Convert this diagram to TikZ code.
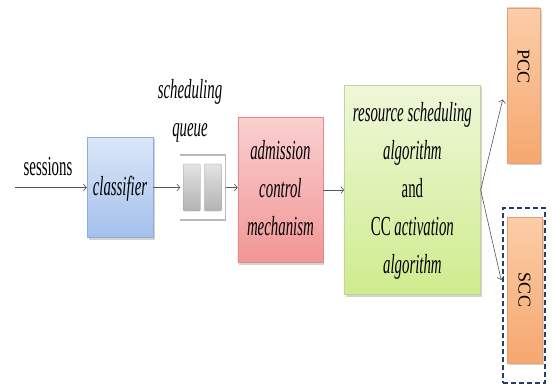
\documentclass[tikz,border=0pt]{standalone}
\usepackage{graphicx}
\usepackage{fontspec}
\setmainfont{Liberation Serif}
\usetikzlibrary{arrows.meta,positioning,shadows}

\definecolor{clsTop}{HTML}{DCE7F8}
\definecolor{clsBot}{HTML}{A3C0EC}
\definecolor{clsLine}{HTML}{8FACD8}
\definecolor{admTop}{HTML}{FAD0D0}
\definecolor{admBot}{HTML}{F29595}
\definecolor{admLine}{HTML}{E08A8A}
\definecolor{resTop}{HTML}{EEF7D9}
\definecolor{resBot}{HTML}{CFEC8E}
\definecolor{resLine}{HTML}{BFD696}
\definecolor{ccTop}{HTML}{FBCDA8}
\definecolor{ccBot}{HTML}{F6A76F}
\definecolor{ccLine}{HTML}{E3A070}
\definecolor{dashBlue}{HTML}{23406A}
\definecolor{arrGray}{HTML}{555555}

% narrow (horizontally squeezed) multi-line labels
\newcommand{\narrowtext}[1]{\scalebox{0.54}[1]{\fontsize{27.5}{38}\selectfont\itshape\begin{tabular}{@{}c@{}}#1\end{tabular}}}

\begin{document}
\begin{tikzpicture}[
  x=1pt, y=-1pt,
  blk/.style={draw, line width=0.5pt, inner sep=0pt,
    drop shadow={shadow xshift=1.5pt, shadow yshift=-2pt, opacity=0.35}},
  clsbox/.style={blk, draw=clsLine, top color=clsTop, bottom color=clsBot},
  admbox/.style={blk, draw=admLine, top color=admTop, bottom color=admBot},
  resbox/.style={blk, draw=resLine, top color=resTop, bottom color=resBot},
  ccbox/.style={blk, draw=ccLine, top color=ccTop, bottom color=ccBot},
  cell/.style={draw=gray!75, top color=gray!22, bottom color=gray!60, rounded corners=1pt,
    minimum width=17pt, minimum height=47pt, inner sep=0pt},
  qline/.style={draw=gray!55, line width=1.5pt},
  cctext/.style={rotate=-90, font=\fontsize{18}{20}\selectfont, inner sep=0pt},
  arr/.style={draw=arrGray, line width=0.6pt, -{Straight Barb[length=3pt,width=7pt]}}
]
\useasboundingbox (0,0) rectangle (553,387);

\node[clsbox, minimum width=66pt, minimum height=100pt] (classifier) at (120,187.5) {\narrowtext{classifier}};
\node[minimum width=45pt, minimum height=65pt, inner sep=0pt, right=27pt of classifier] (queue) {};
\draw[qline] (queue.north west) -- (queue.north east) -- (queue.south east) -- (queue.south west);
\node[cell] (q1) at ([xshift=-11pt]queue.center) {};
\node[cell] (q2) at ([xshift=10pt]queue.center) {};
\node[inner sep=0pt] (qlabel) at (190,110) {\narrowtext{scheduling\\queue}};
\node[admbox, minimum width=85pt, minimum height=145pt, right=12pt of queue, yshift=-2.5pt] (admission)
  {\narrowtext{admission\\control\\mechanism}};
\node[resbox, minimum width=136pt, minimum height=209pt, right=21pt of admission] (resource)
  {\narrowtext{resource scheduling\\algorithm\\{\upshape and}\\{\upshape CC} activation\\algorithm}};

\node[ccbox, minimum width=33pt, minimum height=155pt] (pcc) at (523.5,85.5) {};
\node[cctext] (pcctext) at ([yshift=19pt]pcc.center) {PCC};
\node[ccbox, minimum width=35pt, minimum height=146pt] (scc) at (524.5,290) {};
\node[cctext] (scctext) at (scc.center) {SCC};
\node[draw=dashBlue, line width=1.6pt, dash pattern=on 5pt off 3pt,
  minimum width=42pt, minimum height=175pt] (sccgroup) at (524,295.5) {};

\coordinate (in) at (15,187.5);
\node[inner sep=0pt] (sessions) at (48,168) {\narrowtext{\upshape sessions}};

\draw[arr] (in) -- (classifier);
\draw[arr] (classifier) -- (queue);
\draw[arr] (queue.east) -- (queue.east -| admission.west);
\draw[arr] (admission) -- (resource);
\draw[arr] (resource.east) -- ([xshift=-4pt,yshift=-14pt]pcc.west);
\draw[arr] (resource.east) -- ([xshift=-1pt,yshift=15.5pt]sccgroup.west);
\end{tikzpicture}
\end{document}
